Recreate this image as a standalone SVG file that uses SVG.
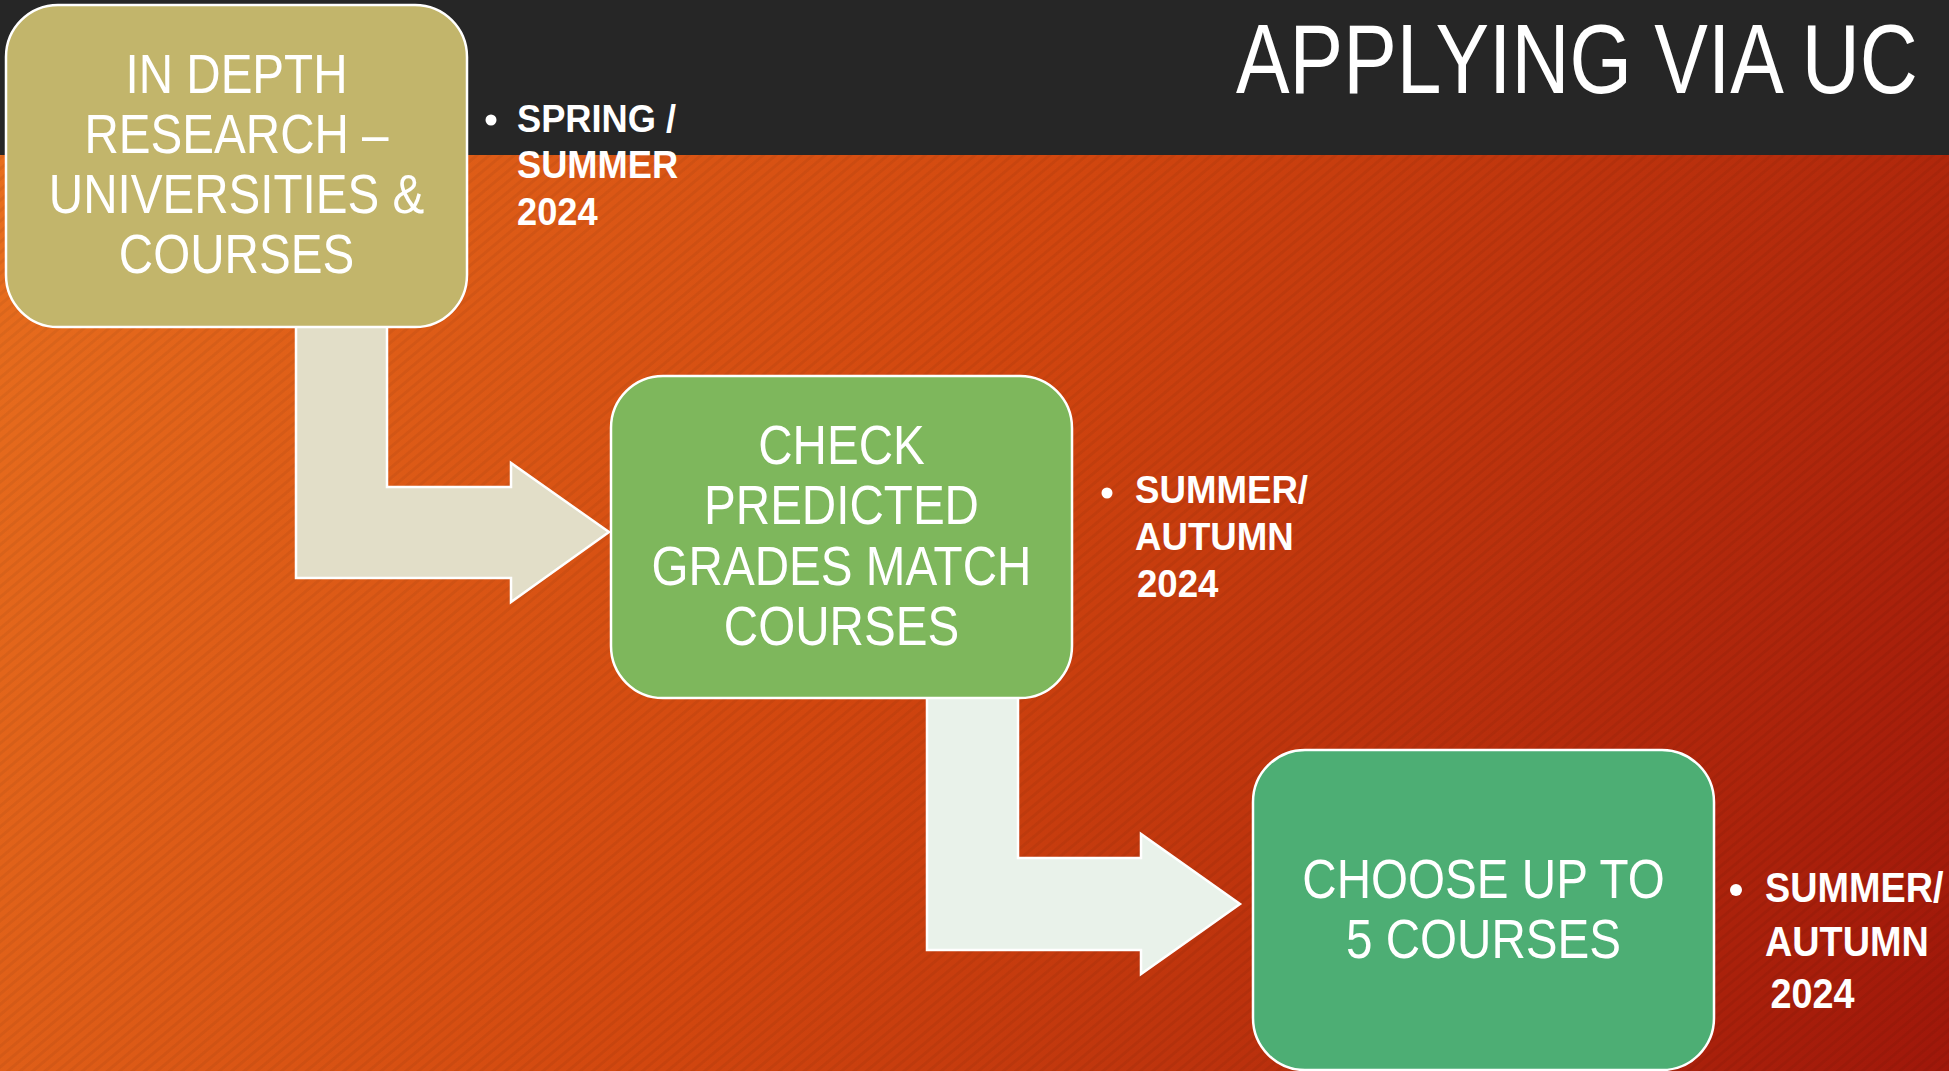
<svg xmlns="http://www.w3.org/2000/svg" width="1949" height="1071" viewBox="0 0 1949 1071">
<defs>
<linearGradient id="bg" x1="0" y1="155" x2="1949" y2="1071" gradientUnits="userSpaceOnUse">
<stop offset="0" stop-color="#E86E1E"/>
<stop offset="0.45" stop-color="#D2470F"/>
<stop offset="1" stop-color="#A0170A"/>
</linearGradient>
<pattern id="stripes" width="8" height="8" patternUnits="userSpaceOnUse" patternTransform="rotate(-40)">
<rect x="0" y="0" width="8" height="3" fill="#000" opacity="0.05"/>
</pattern>
<style>
.node-text{font-family:"Liberation Sans","Open Sans",sans-serif;font-size:56px;fill:#fff;text-anchor:middle}
.label{font-family:"Liberation Sans","Open Sans",sans-serif;font-weight:bold;fill:#fff}
.box{stroke:#fff;stroke-width:2.5}
.arrow{stroke:#fff;stroke-width:2.5;stroke-linejoin:miter}
.title{font-family:"Liberation Sans","Open Sans",sans-serif;font-size:98px;fill:#fff}
</style>
</defs>
<rect x="0" y="0" width="1949" height="1071" fill="url(#bg)"/>
<rect x="0" y="0" width="1949" height="1071" fill="url(#stripes)"/>
<rect x="0" y="0" width="1949" height="155" fill="#262626"/>
<g id="title" transform="translate(1236,0) scale(0.82,1)">
<text class="title" x="0" y="93">APPLYING VIA UC</text>
</g>
<g id="connectors">
<path class="arrow" fill="#E2DEC8" d="M296,326 L387,326 L387,487 L511,487 L511,463 L609,532 L511,602 L511,578 L296,578 Z"/>
<path class="arrow" fill="#E9F2EA" d="M927,697 L1018,697 L1018,858 L1141,858 L1141,834 L1240,904 L1141,974 L1141,950 L927,950 Z"/>
</g>
<g id="node-research">
<rect class="box" x="6" y="5" width="461" height="322" rx="52" fill="#C2B56B"/>
<g transform="translate(236.5,0) scale(0.85,1)">
<text class="node-text" x="0" y="93">IN DEPTH</text>
<text class="node-text" x="0" y="153">RESEARCH –</text>
<text class="node-text" x="0" y="213">UNIVERSITIES &amp;</text>
<text class="node-text" x="0" y="273">COURSES</text>
</g>
</g>
<g id="label-research">
<circle cx="491" cy="120" r="5.5" fill="#fff"/>
<g transform="translate(517,0) scale(0.93,1)">
<text class="label" x="0" y="132" font-size="39">SPRING /</text>
<text class="label" x="0" y="178" font-size="39">SUMMER</text>
<text class="label" x="0" y="225" font-size="39">2024</text>
</g>
</g>
<g id="node-check">
<rect class="box" x="611" y="376" width="461" height="322" rx="52" fill="#7EB75C"/>
<g transform="translate(841.5,0) scale(0.85,1)">
<text class="node-text" x="0" y="464">CHECK</text>
<text class="node-text" x="0" y="524">PREDICTED</text>
<text class="node-text" x="0" y="585">GRADES MATCH</text>
<text class="node-text" x="0" y="645">COURSES</text>
</g>
</g>
<g id="label-check">
<circle cx="1107" cy="493" r="5.5" fill="#fff"/>
<g transform="translate(1135,0) scale(0.94,1)">
<text class="label" x="0" y="503" font-size="39">SUMMER/</text>
<text class="label" x="0" y="550" font-size="39">AUTUMN</text>
<text class="label" x="2" y="597" font-size="39">2024</text>
</g>
</g>
<g id="node-choose">
<rect class="box" x="1253" y="750" width="461" height="320" rx="52" fill="#4DAE74"/>
<g transform="translate(1483.5,0) scale(0.85,1)">
<text class="node-text" x="0" y="898">CHOOSE UP TO</text>
<text class="node-text" x="0" y="958">5 COURSES</text>
</g>
</g>
<g id="label-choose">
<circle cx="1736" cy="890" r="6" fill="#fff"/>
<g transform="translate(1765,0) scale(0.9,1)">
<text class="label" x="0" y="902" font-size="42">SUMMER/</text>
<text class="label" x="0" y="956" font-size="42">AUTUMN</text>
<text class="label" x="6" y="1008" font-size="42">2024</text>
</g>
</g>
</svg>
